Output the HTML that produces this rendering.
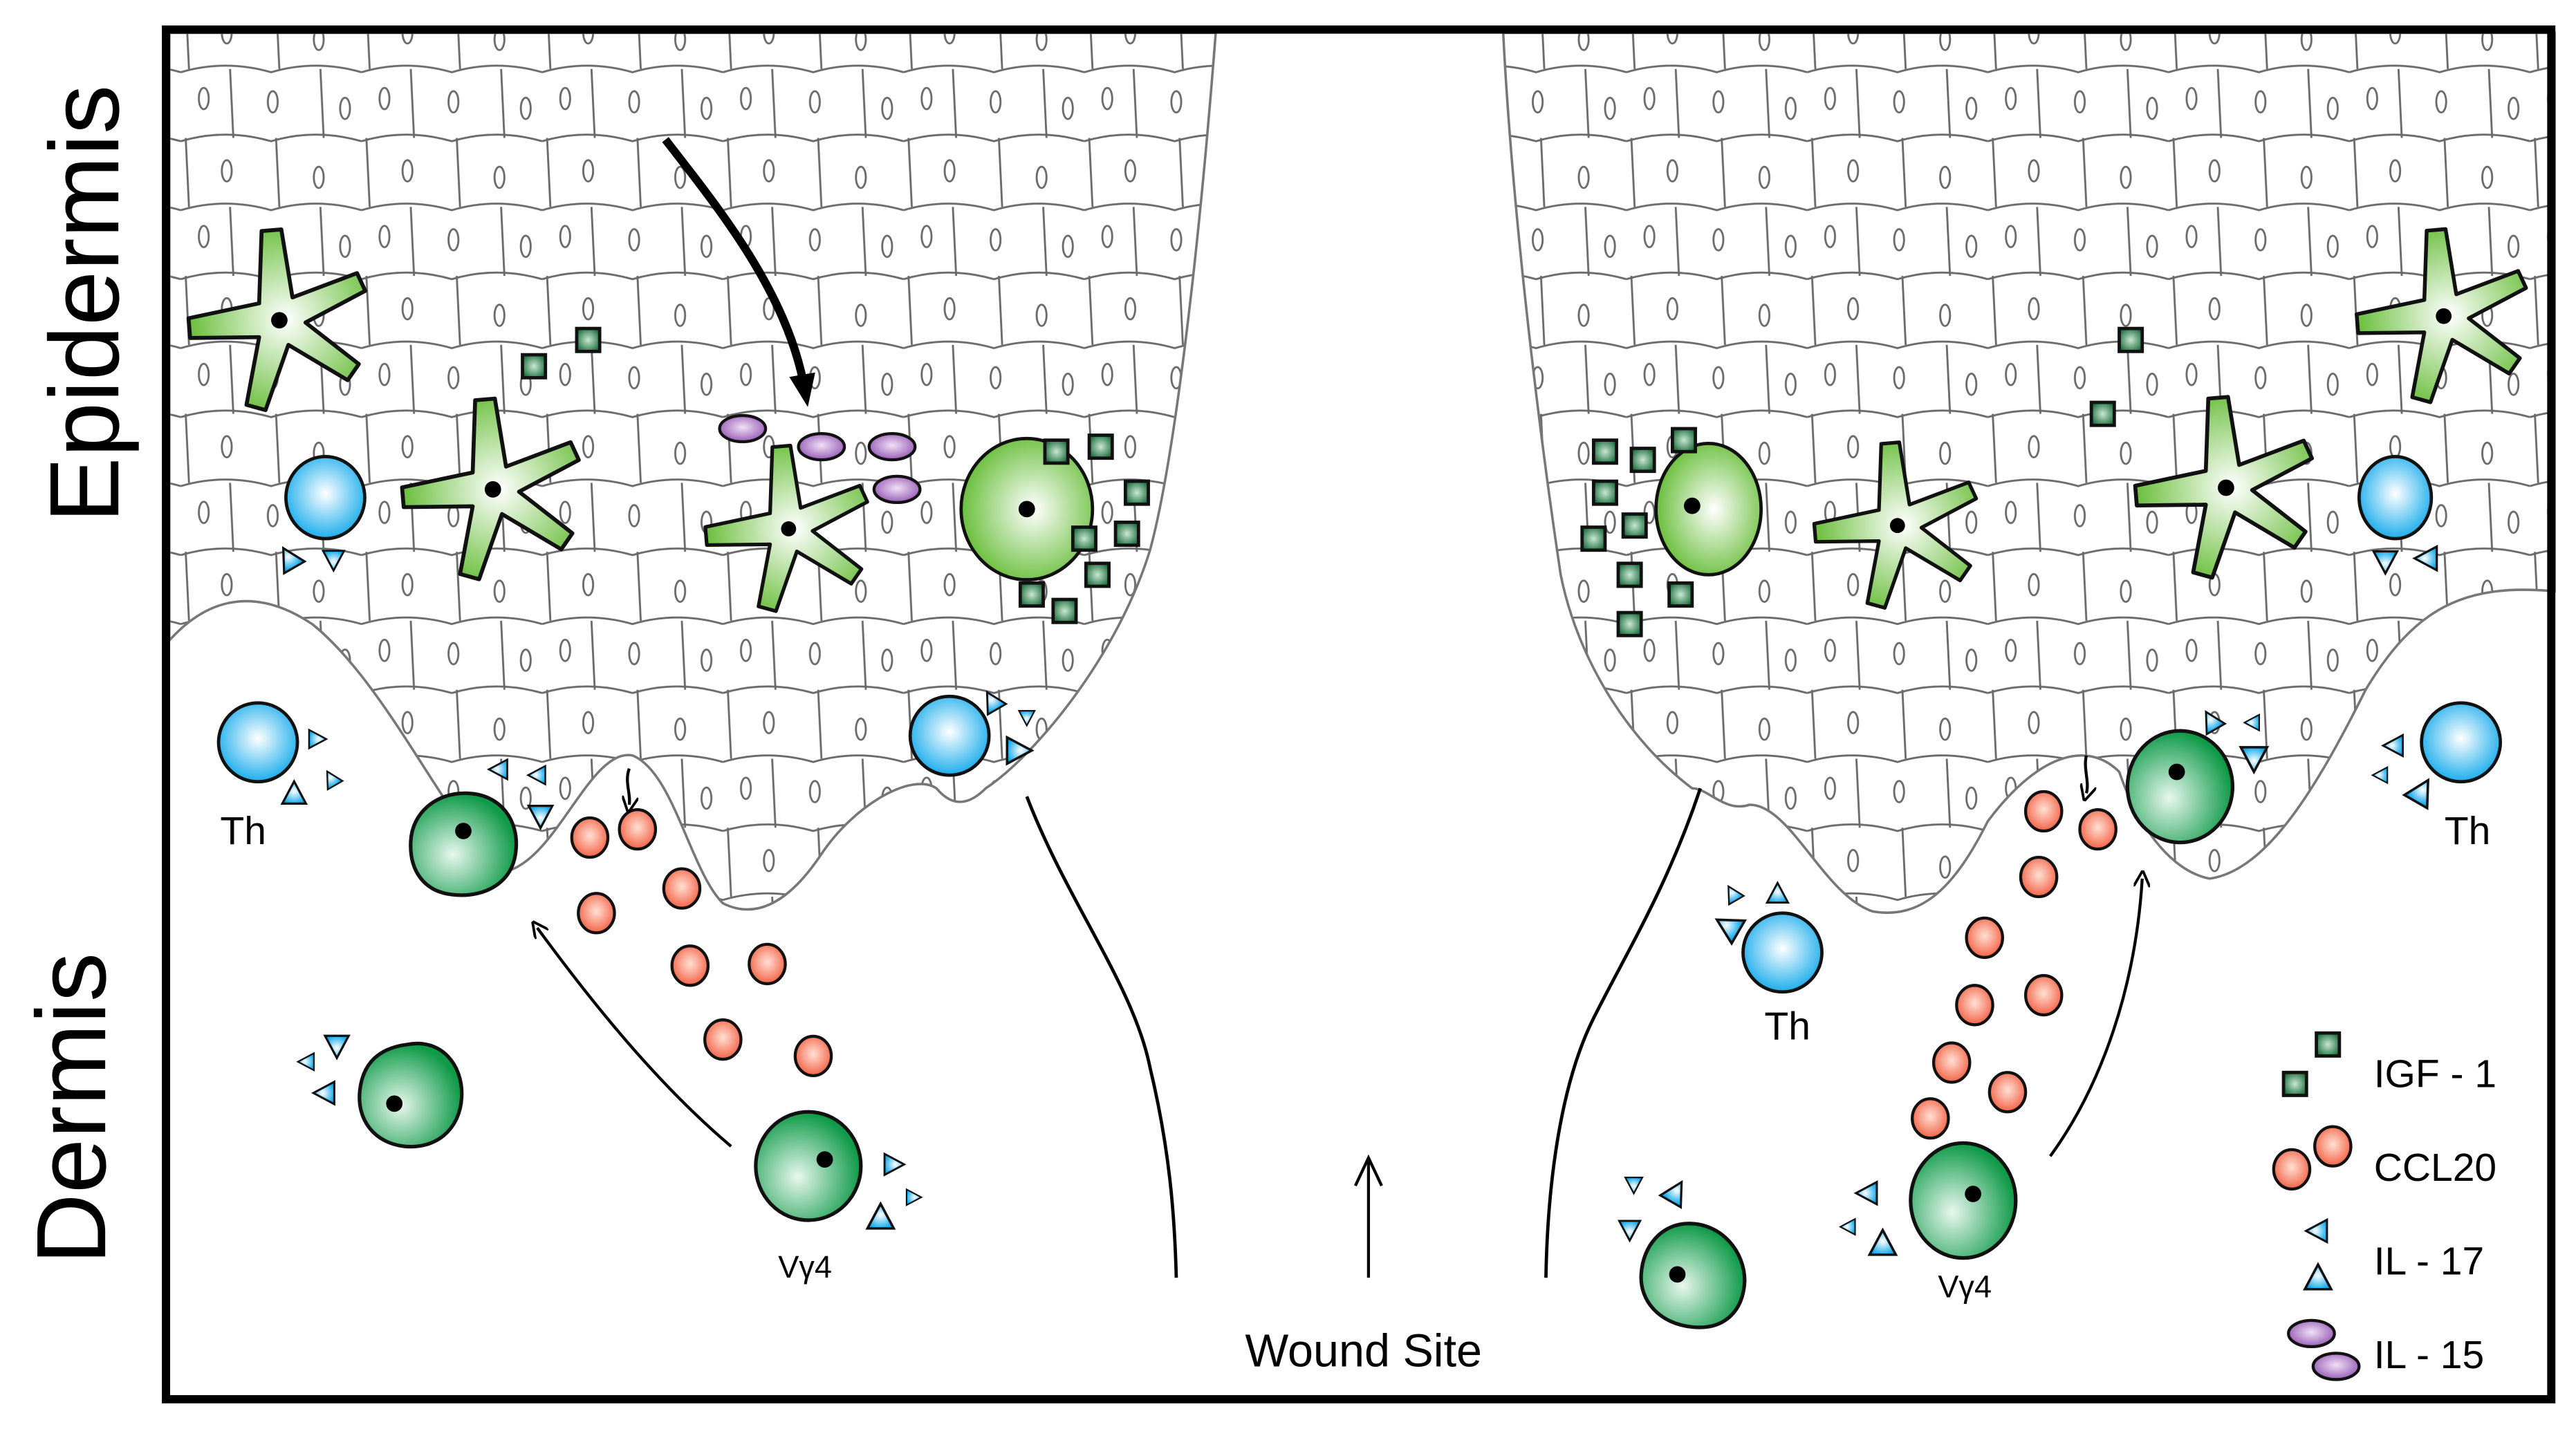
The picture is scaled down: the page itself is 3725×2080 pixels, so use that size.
<!DOCTYPE html>
<html><head><meta charset="utf-8"><style>html,body{margin:0;padding:0;background:#fff}svg{display:block}</style></head>
<body>
<svg xmlns="http://www.w3.org/2000/svg" width="3725" height="2080" viewBox="0 0 1568 875.6">
<defs>
<pattern id="cells" patternUnits="userSpaceOnUse" width="110" height="84">
<rect width="110" height="84" fill="#fff"/>
<g fill="none" stroke="#6a6a6a" stroke-width="1.2">
<path d="M0,2 Q27,-6 55,2 Q82,-6 110,2 M0,44 Q27,36 55,44 Q82,36 110,44 M0,86 Q27,78 55,86 Q82,78 110,86"/>
<path d="M3,0 L5,42 M58,0 L60,42 M30,42 L32,84 M85,42 L87,84"/>
<ellipse cx="28" cy="20" rx="3" ry="6.5"/><ellipse cx="84" cy="24" rx="3" ry="6.5"/>
<ellipse cx="56" cy="62" rx="3" ry="6.5"/><ellipse cx="14" cy="60" rx="3" ry="6.5"/><ellipse cx="100" cy="66" rx="3" ry="6.5"/>
</g>
</pattern>
<radialGradient id="gl" cx="0.55" cy="0.5" r="0.6"><stop offset="0" stop-color="#fff"/><stop offset="1" stop-color="#5cb82a"/></radialGradient>
<radialGradient id="gd" cx="0.4" cy="0.6" r="0.6"><stop offset="0" stop-color="#e8f7ee"/><stop offset="1" stop-color="#0f9a48"/></radialGradient>
<radialGradient id="gb" cx="0.5" cy="0.45" r="0.6"><stop offset="0" stop-color="#fff"/><stop offset="1" stop-color="#08a6ea"/></radialGradient>
<radialGradient id="go" cx="0.5" cy="0.45" r="0.6"><stop offset="0" stop-color="#ffe0d4"/><stop offset="1" stop-color="#f2583a"/></radialGradient>
<radialGradient id="gp" cx="0.5" cy="0.45" r="0.6"><stop offset="0" stop-color="#f0e0f6"/><stop offset="1" stop-color="#9050b0"/></radialGradient>
<radialGradient id="gs" cx="0.5" cy="0.5" r="0.6"><stop offset="0" stop-color="#c8e8d0"/><stop offset="1" stop-color="#17683a"/></radialGradient>
<symbol id="star" viewBox="-60 -60 120 120" overflow="visible">
<path d="M-10.8,-54.3 L1.2,-55.3 L8,-13.9 L47.3,-28.7 L52.3,-17.9 L15.9,1.4 L48.4,26.7 L41.6,36.5 L5.5,15 L-8.4,54.7 L-20,51.5 L-12.3,10.3 L-54.3,10.8 L-55.3,-1.2 L-12.3,-10.3 Z" fill="url(#gl)" stroke="#111" stroke-width="2.4" stroke-linejoin="round"/>
<circle r="5" fill="#000"/>
</symbol>
<symbol id="sq" viewBox="-8 -8 16 16" overflow="visible"><rect x="-7" y="-7" width="14" height="14" fill="url(#gs)" stroke="#111" stroke-width="2"/></symbol>
<symbol id="cc" viewBox="-12 -12 24 24" overflow="visible"><ellipse rx="11" ry="12" fill="url(#go)" stroke="#111" stroke-width="1.8"/></symbol>
<symbol id="tr" viewBox="-10 -10 20 20" overflow="visible"><path d="M0,-8 L8,7 L-8,7 Z" fill="url(#gb)" stroke="#111" stroke-width="1.5"/></symbol>
<marker id="ah" markerWidth="10" markerHeight="10" refX="5" refY="5" orient="auto" markerUnits="userSpaceOnUse" viewBox="0 0 10 10"><path d="M0,0 L10,5 L0,10" fill="none" stroke="#000" stroke-width="1.6"/></marker>
<marker id="ahb" markerWidth="20" markerHeight="20" refX="10" refY="10" orient="auto" markerUnits="userSpaceOnUse" viewBox="0 0 20 20"><path d="M0,2 L20,10 L0,18 Z" fill="#000"/></marker>
</defs>
<rect width="1568" height="876" fill="#fff"/>
<path d="M103,20 L740,20 C730,150 715,280 700,335 C680,400 630,460 600,480 C590,490 580,492 570,480 C555,470 520,490 500,520 C480,550 460,560 440,550 C420,530 410,470 385,460 C360,455 340,520 310,530 C280,520 240,420 190,380 C160,360 130,360 103,390 Z" fill="url(#cells)" stroke="#777" stroke-width="1.5"/>
<path d="M915,20 L1555,20 L1555,360 C1500,355 1470,370 1440,420 C1410,480 1380,530 1345,535 C1320,530 1300,500 1290,470 C1270,450 1240,460 1210,500 C1190,540 1170,560 1140,555 C1110,545 1090,490 1065,490 C1050,495 1040,480 1030,480 C990,450 960,400 950,350 C935,250 920,120 915,20 Z" fill="url(#cells)" stroke="#777" stroke-width="1.5"/>
<path d="M625,485 C650,550 690,600 700,650 C712,700 715,740 716,778" fill="none" stroke="#000" stroke-width="2"/>
<path d="M1035,480 C1015,540 990,580 970,620 C950,660 942,720 941,778" fill="none" stroke="#000" stroke-width="2"/>
<rect x="101" y="18" width="1452" height="834" fill="none" stroke="#000" stroke-width="5"/>
<text transform="translate(72,185) rotate(-90)" text-anchor="middle" font-family="Liberation Sans, sans-serif" font-size="60">Epidermis</text>
<text transform="translate(64,675) rotate(-90)" text-anchor="middle" font-family="Liberation Sans, sans-serif" font-size="60">Dermis</text>
<use href="#star" x="110" y="135" width="120" height="120"/>
<use href="#star" x="240" y="238" width="120" height="120"/>
<use href="#star" x="425" y="267" width="110" height="110"/>
<use href="#star" x="1100" y="265" width="110" height="110"/>
<use href="#star" x="1295" y="237" width="120" height="120"/>
<use href="#star" x="1430" y="135" width="115" height="115"/>
<ellipse cx="625" cy="310" rx="40" ry="43" fill="url(#gl)" stroke="#111" stroke-width="2"/><circle cx="625" cy="310" r="5"/>
<ellipse cx="1040" cy="310" rx="32" ry="40" fill="url(#gl)" stroke="#111" stroke-width="2"/><circle cx="1030" cy="308" r="5"/>
<g>
<use href="#sq" x="317" y="215" width="16" height="16"/><use href="#sq" x="350" y="199" width="16" height="16"/>
<use href="#sq" x="635" y="267" width="16" height="16"/><use href="#sq" x="662" y="264" width="16" height="16"/>
<use href="#sq" x="684" y="292" width="16" height="16"/><use href="#sq" x="652" y="320" width="16" height="16"/>
<use href="#sq" x="678" y="317" width="16" height="16"/><use href="#sq" x="660" y="342" width="16" height="16"/>
<use href="#sq" x="620" y="354" width="16" height="16"/><use href="#sq" x="640" y="364" width="16" height="16"/>
<use href="#sq" x="969" y="267" width="16" height="16"/><use href="#sq" x="992" y="272" width="16" height="16"/>
<use href="#sq" x="1017" y="260" width="16" height="16"/><use href="#sq" x="969" y="292" width="16" height="16"/>
<use href="#sq" x="987" y="312" width="16" height="16"/><use href="#sq" x="962" y="320" width="16" height="16"/>
<use href="#sq" x="984" y="342" width="16" height="16"/><use href="#sq" x="1015" y="354" width="16" height="16"/>
<use href="#sq" x="984" y="372" width="16" height="16"/><use href="#sq" x="1289" y="199" width="16" height="16"/>
<use href="#sq" x="1272" y="244" width="16" height="16"/>
<use href="#sq" x="1409" y="628" width="16" height="16"/><use href="#sq" x="1389" y="652" width="16" height="16"/>
</g>
<g fill="url(#gp)" stroke="#111" stroke-width="1.8">
<ellipse cx="452" cy="261" rx="14" ry="8"/><ellipse cx="500" cy="272" rx="14" ry="8"/><ellipse cx="543" cy="272" rx="14" ry="8"/><ellipse cx="546" cy="298" rx="14" ry="8"/>
<ellipse cx="1407" cy="812" rx="14" ry="8"/><ellipse cx="1422" cy="832" rx="14" ry="8"/>
</g>
<path d="M405,85 C440,130 480,180 490,238" fill="none" stroke="#000" stroke-width="5" marker-end="url(#ahb)"/>
<g fill="url(#gb)" stroke="#111" stroke-width="2">
<ellipse cx="198" cy="303" rx="24" ry="25"/><ellipse cx="157" cy="452" rx="24" ry="24"/><ellipse cx="578" cy="448" rx="24" ry="24"/>
<ellipse cx="1085" cy="580" rx="24" ry="24"/><ellipse cx="1498" cy="452" rx="24" ry="24"/><ellipse cx="1458" cy="303" rx="22" ry="25"/>
</g>
<g>
<use href="#tr" x="167" y="331" width="18" height="18" transform="rotate(-30 176 340)"/><use href="#tr" x="195" y="333" width="16" height="16" transform="rotate(180 203 341)"/>
<use href="#tr" x="186" y="443" width="14" height="14" transform="rotate(90 193 450)"/><use href="#tr" x="170" y="474" width="18" height="18"/><use href="#tr" x="195" y="468" width="13" height="13" transform="rotate(-30 201 474)"/>
<use href="#tr" x="296" y="462" width="15" height="15" transform="rotate(-90 303 469)"/><use href="#tr" x="320" y="465" width="14" height="14" transform="rotate(-90 327 472)"/><use href="#tr" x="320" y="488" width="18" height="18" transform="rotate(180 329 497)"/>
<use href="#tr" x="596" y="419" width="16" height="16" transform="rotate(-30 604 427)"/><use href="#tr" x="619" y="431" width="12" height="12" transform="rotate(180 625 437)"/><use href="#tr" x="610" y="447" width="20" height="20" transform="rotate(90 620 457)"/>
<use href="#tr" x="196" y="628" width="18" height="18" transform="rotate(180 205 637)"/><use href="#tr" x="180" y="641" width="13" height="13" transform="rotate(-90 186 647)"/><use href="#tr" x="189" y="658" width="17" height="17" transform="rotate(-90 197 666)"/>
<use href="#tr" x="536" y="701" width="16" height="16" transform="rotate(90 544 709)"/><use href="#tr" x="550" y="723" width="12" height="12" transform="rotate(90 556 729)"/><use href="#tr" x="526" y="731" width="20" height="20"/>
<use href="#tr" x="1048" y="538" width="13" height="13" transform="rotate(-30 1054 544)"/><use href="#tr" x="1074" y="536" width="16" height="16"/><use href="#tr" x="1042" y="554" width="20" height="20" transform="rotate(-60 1052 564)"/>
<use href="#tr" x="1338" y="431" width="16" height="16" transform="rotate(-30 1346 439)"/><use href="#tr" x="1365" y="434" width="12" height="12" transform="rotate(-90 1371 440)"/><use href="#tr" x="1362" y="452" width="20" height="20" transform="rotate(180 1372 462)"/>
<use href="#tr" x="1449" y="446" width="16" height="16" transform="rotate(-90 1457 454)"/><use href="#tr" x="1443" y="466" width="12" height="12" transform="rotate(-90 1449 472)"/><use href="#tr" x="1464" y="472" width="20" height="20" transform="rotate(30 1474 482)"/>
<use href="#tr" x="1443" y="333" width="18" height="18" transform="rotate(180 1452 342)"/><use href="#tr" x="1468" y="331" width="18" height="18" transform="rotate(-90 1477 340)"/>
<use href="#tr" x="989" y="716" width="13" height="13" transform="rotate(180 995 722)"/><use href="#tr" x="1011" y="717" width="18" height="18" transform="rotate(30 1020 726)"/><use href="#tr" x="984" y="741" width="16" height="16" transform="rotate(180 992 749)"/>
<use href="#tr" x="1128" y="719" width="17" height="17" transform="rotate(-90 1136 727)"/><use href="#tr" x="1119" y="741" width="12" height="12" transform="rotate(-90 1125 747)"/><use href="#tr" x="1136" y="747" width="20" height="20"/>
<use href="#tr" x="1401" y="741" width="17" height="17" transform="rotate(-90 1410 749)"/><use href="#tr" x="1401" y="768" width="20" height="20"/>
</g>
<g fill="url(#gd)" stroke="#111" stroke-width="2.2">
<path d="M283,483 C305,483 316,500 314,518 C312,538 295,546 278,545 C258,544 249,530 250,512 C251,495 265,483 283,483 Z"/>
<path d="M248,636 C268,632 282,648 281,668 C280,688 265,700 246,698 C228,696 217,682 219,664 C221,646 232,638 248,636 Z"/>
<ellipse cx="492" cy="710" rx="32" ry="33"/>
<ellipse cx="1327" cy="479" rx="32" ry="34"/>
<path d="M1028,745 C1048,745 1062,762 1062,780 C1061,800 1048,810 1030,808 C1010,806 998,792 999,776 C1000,758 1012,745 1028,745 Z"/>
<ellipse cx="1195" cy="731" rx="32" ry="35"/>
</g>
<g fill="#000"><circle cx="282" cy="506" r="5"/><circle cx="240" cy="672" r="5"/><circle cx="502" cy="706" r="5"/><circle cx="1325" cy="470" r="5"/><circle cx="1021" cy="776" r="5"/><circle cx="1201" cy="727" r="5"/></g>
<g>
<use href="#cc" x="347" y="498" width="24" height="24"/><use href="#cc" x="376" y="493" width="24" height="24"/><use href="#cc" x="403" y="529" width="24" height="24"/>
<use href="#cc" x="351" y="544" width="24" height="24"/><use href="#cc" x="408" y="576" width="24" height="24"/><use href="#cc" x="455" y="575" width="24" height="24"/>
<use href="#cc" x="428" y="621" width="24" height="24"/><use href="#cc" x="483" y="631" width="24" height="24"/>
<use href="#cc" x="1232" y="482" width="24" height="24"/><use href="#cc" x="1265" y="493" width="24" height="24"/><use href="#cc" x="1229" y="522" width="24" height="24"/>
<use href="#cc" x="1196" y="559" width="24" height="24"/><use href="#cc" x="1190" y="600" width="24" height="24"/><use href="#cc" x="1232" y="594" width="24" height="24"/>
<use href="#cc" x="1176" y="635" width="24" height="24"/><use href="#cc" x="1210" y="653" width="24" height="24"/><use href="#cc" x="1163" y="669" width="24" height="24"/>
<use href="#cc" x="1383" y="700" width="24" height="24"/><use href="#cc" x="1408" y="686" width="24" height="24"/>
</g>
<g fill="none" stroke="#000" stroke-width="1.8">
<path d="M445,698 C400,660 360,610 327,565" marker-end="url(#ah)"/>
<path d="M383,468 C380,476 384,483 383,490" marker-end="url(#ah)"/>
<path d="M1248,704 C1280,660 1300,600 1304,535" marker-end="url(#ah)"/>
<path d="M1270,460 C1268,468 1272,476 1270,483" marker-end="url(#ah)"/>
<path d="M833,778 L833,707"/><path d="M825,722 L833,705 L841,722"/>
</g>
<g font-family="Liberation Sans, sans-serif" fill="#000">
<text x="148" y="514" font-size="24" text-anchor="middle">Th</text>
<text x="1088" y="633" font-size="24" text-anchor="middle">Th</text>
<text x="1502" y="514" font-size="24" text-anchor="middle">Th</text>
<text x="490" y="778" font-size="19" text-anchor="middle">Vγ4</text>
<text x="1196" y="790" font-size="19" text-anchor="middle">Vγ4</text>
<text x="830" y="832" font-size="28" text-anchor="middle">Wound Site</text>
<text x="1445" y="662" font-size="24">IGF - 1</text>
<text x="1445" y="719" font-size="24">CCL20</text>
<text x="1445" y="776" font-size="24">IL - 17</text>
<text x="1445" y="833" font-size="24">IL - 15</text>
</g>
</svg>
</body></html>
